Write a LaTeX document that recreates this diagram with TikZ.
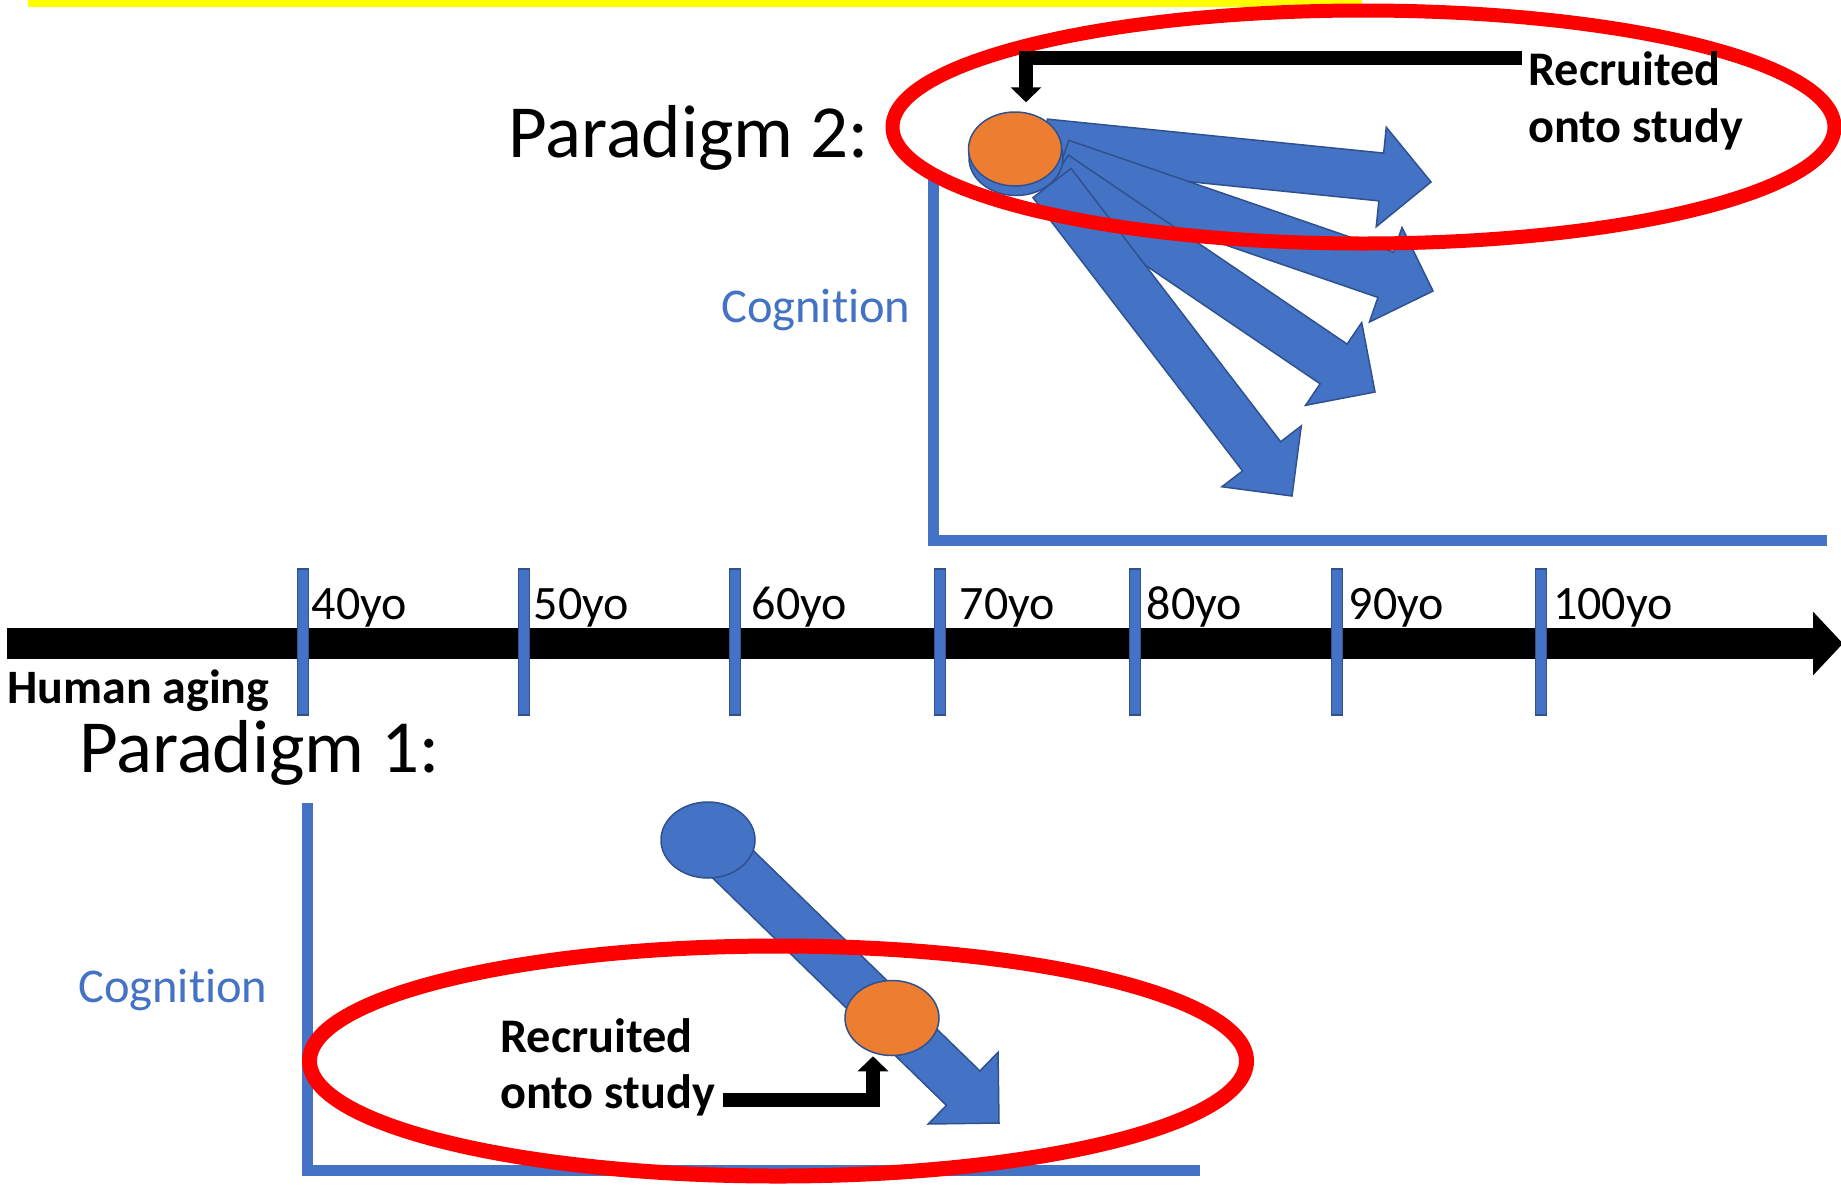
\documentclass[tikz,border=0pt]{standalone}
\usepackage{fontspec}
\setmainfont{Carlito}[Ligatures={NoCommon,NoContextual}]
\usepackage{xcolor}
\usetikzlibrary{arrows.meta, calc, shapes.geometric}

\definecolor{azul}{HTML}{4472C4}
\definecolor{azulosc}{HTML}{2F528F}
\definecolor{naranja}{HTML}{ED7D31}
\definecolor{rojo}{HTML}{FF0000}
\definecolor{amarillo}{HTML}{FFFF00}

\begin{document}
\begin{tikzpicture}[x=1pt, y=-1pt,
    texto/.style={inner sep=0pt, anchor=base west},
    edad/.style={texto, font=\fontsize{48}{56}\selectfont},
    titulo/.style={texto, font=\fontsize{75}{88}\selectfont},
    cogni/.style={texto, text=azul, font=\fontsize{48.5}{56}\selectfont},
    negrita/.style={texto, font=\fontsize{48.3}{56}\selectfont\bfseries},
    eje/.style={draw=azul, line width=11pt, line join=miter},
    marca/.style={fill=azul, draw=azulosc, line width=1.2pt},
    bloque/.style={fill=azul, draw=azulosc, line width=1.5pt, line join=miter},
    bolita/.style={ellipse, draw=azulosc, line width=1.5pt, inner sep=0pt,
                   minimum width=94pt, minimum height=75pt},
    ovalo/.style={draw=rojo, line width=14pt},
    recluta/.style={line width=14pt, line join=miter,
                    -{Triangle[width=30pt, length=15pt]}},
    tiempo/.style={line width=31pt, -{Triangle[width=62pt, length=30pt]}}
  ]

  \path[use as bounding box, fill=white] (0,0) rectangle (1841,1184);

  % --- Franja superior ---
  \fill[amarillo] (28,0) rectangle (1362,7);

  % --- Ejes ---
  \draw[eje] (933,172) |- (1827,540);
  \draw[eje] (307,803) |- (1200,1170);

  % --- Linea de tiempo ---
  \draw[tiempo] (7,643.5) -- (1843,643.5);
  \foreach \x in {303,524,735,940,1135,1337,1541}
    \draw[marca] (\x-5.5,569) rectangle (\x+5.5,715);
  \foreach \x/\t in {311.5/40yo, 533.5/50yo, 751.5/60yo, 959.5/70yo,
                     1146.5/80yo, 1348.5/90yo, 1553/100yo}
    \node[edad] (e\t) at (\x,619) {\t};
  \node[negrita, font=\fontsize{48}{56}\selectfont\bfseries] (vida) at (7,703)
       {Human aging};

  % --- Titulos ---
  \node[titulo] (par2) at (508,157) {Paradigm 2:};
  \node[cogni]  (cog2) at (721,322) {Cognition};
  \node[titulo] (par1) at (79,772)  {Paradigm 1:};
  \node[cogni]  (cog1) at (78,1002) {Cognition};

  % --- Trayectorias ---
  \coordinate (c2)  at (1015,149);
  \coordinate (t2a) at (1045,143);
  \coordinate (t2b) at (1061,163);
  \coordinate (t2c) at (1055,175);
  \coordinate (t2d) at (1052,183);
  \coordinate (p2a) at (1431,182);
  \coordinate (p2b) at (1433,291);
  \coordinate (p2c) at (1375,392);
  \coordinate (p2d) at (1292,496);
  \coordinate (c1)  at (708,840);
  \coordinate (p1)  at (999,1123);
  \foreach \ini/\pt in {t2a/p2a, t2b/p2b, t2c/p2c, t2d/p2d, c1/p1}{
    \coordinate (bcab) at ($(\pt)!50pt!(\ini)$);
    \draw[bloque] ($(\ini)!24pt!90:(\pt)$) -- ($(bcab)!24pt!90:(\pt)$)
      -- ($(bcab)!50pt!90:(\pt)$) -- (\pt) -- ($(bcab)!50pt!-90:(\pt)$)
      -- ($(bcab)!24pt!-90:(\pt)$) -- ($(\ini)!24pt!-90:(\pt)$) -- cycle;
  }

  % --- Sujetos ---
  \node[bolita, fill=azul] (ini2) at (1016,158) {};
  \node[bolita, fill=naranja, minimum width=93pt, minimum height=74pt]
       (rec2) at (c2) {};
  \node[bolita, fill=azul, minimum height=76pt] (ini1) at (c1) {};
  \node[bolita, fill=naranja] (rec1) at (892,1018) {};

  % --- Seleccion ---
  \draw[ovalo] (1363.5,127) ellipse [x radius=471, y radius=116.5];
  \draw[ovalo, line width=15pt] (778,1061) ellipse [x radius=468.5, y radius=115];

  % --- Reclutamiento ---
  \node[negrita] (txt2a) at (1528,85)  {Recruited};
  \node[negrita] (txt2b) at (1528,142) {onto study};
  \node[negrita] (txt1a) at (500,1052) {Recruited};
  \node[negrita] (txt1b) at (500,1108) {onto study};
  \coordinate (r2ini) at (1522,58);
  \coordinate (r1ini) at (723,1099.5);
  \draw[recluta] (r2ini) -| ([xshift=11pt, yshift=9pt]rec2.north);
  \draw[recluta] (r1ini) -| ([xshift=-19pt]rec1.south);
\end{tikzpicture}
\end{document}
